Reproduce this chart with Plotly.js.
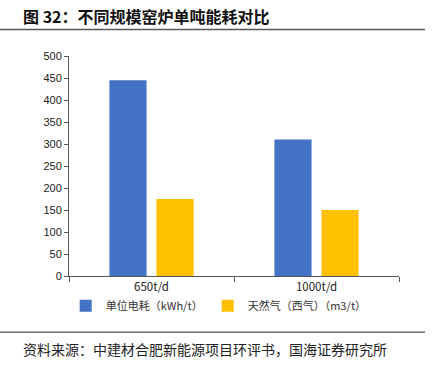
<!DOCTYPE html>
<html>
<head>
<meta charset="utf-8">
<script src="https://cdn.plot.ly/plotly-3.0.1.min.js"></script>
<style>
html,body{margin:0;padding:0;background:#fff;}
#chart{width:439px;height:366px;}
</style>
</head>
<body>
<div id="chart"></div>
<script>
const categories = ["650t/d", "1000t/d"];
const seriesNames = ["单位电耗（kWh/t）", "天然气（西气）（m3/t）"];
const electricity = [445, 310];
const gas = [175, 150];
const yTicks = [0, 50, 100, 150, 200, 250, 300, 350, 400, 450, 500];

const cjk = '"Noto Sans CJK SC", "Noto Sans", sans-serif';
const axisColor = '#595959';

const data = [
  {type: 'bar', name: seriesNames[0], x: categories, y: electricity, marker: {color: '#4472C4'}},
  {type: 'bar', name: seriesNames[1], x: categories, y: gas, marker: {color: '#FFC000'}}
];

const layout = {
  width: 439, height: 366,
  margin: {l: 69, r: 40, t: 56, b: 90},
  paper_bgcolor: '#fff', plot_bgcolor: '#fff',
  barmode: 'group', bargap: 0.43, bargroupgap: 0.21,
  showlegend: true,
  legend: {orientation: 'h', x: -0.01, y: -0.135, xanchor: 'left', yanchor: 'middle',
           bgcolor: 'rgba(0,0,0,0)',
           font: {family: cjk, size: 11, color: '#333'}, itemwidth: 30, traceorder: 'normal'},
  xaxis: {type: 'category', tickson: 'boundaries', ticks: 'outside', ticklen: 5, tickcolor: axisColor,
          showline: true, linecolor: axisColor, linewidth: 1, showgrid: false,
          tickfont: {family: cjk, size: 11.5, color: '#222'}},
  yaxis: {range: [0, 500], tickvals: yTicks, ticks: 'outside', ticklen: 4, tickcolor: axisColor,
          showline: true, linecolor: axisColor, linewidth: 1, showgrid: false, zeroline: false,
          tickfont: {family: '"Liberation Sans", Arial, sans-serif', size: 11, color: '#222'}},
  shapes: [
    {type: 'line', xref: 'paper', yref: 'paper', x0: -0.209, x1: 1.079, y0: 1.12, y1: 1.12,
     line: {color: '#595959', width: 1.5}},
    {type: 'line', xref: 'paper', yref: 'paper', x0: -0.209, x1: 1.079, y0: -0.255, y1: -0.255,
     line: {color: '#222', width: 1}}
  ],
  annotations: [
    {xref: 'paper', yref: 'paper', x: -0.145, y: 1.18, xanchor: 'left', yanchor: 'middle', showarrow: false,
     text: '<b>图 32：</b>不同规模窑炉单吨能耗对比', font: {family: cjk, size: 16, color: '#111', weight: 600}},
    {xref: 'paper', yref: 'paper', x: -0.145, y: -0.33, xanchor: 'left', yanchor: 'middle', showarrow: false,
     text: '资料来源：中建材合肥新能源项目环评书，国海证券研究所', font: {family: cjk, size: 14, color: '#222'}}
  ]
};

Plotly.newPlot('chart', data, layout, {displayModeBar: false, staticPlot: true});
</script>
</body>
</html>
